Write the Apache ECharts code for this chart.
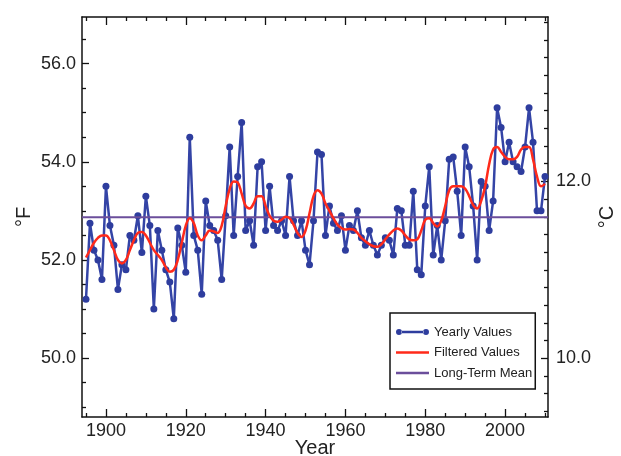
<!DOCTYPE html>
<html><head><meta charset="utf-8">
<script src="https://cdn.jsdelivr.net/npm/echarts@6/dist/echarts.min.js"></script>
<style>html,body{margin:0;padding:0;background:#fff}#c{width:621px;height:456px}</style>
</head><body><div id="c"></div>
<script>
const years = [1895,1896,1897,1898,1899,
1900,1901,1902,1903,1904,1905,1906,1907,1908,1909,
1910,1911,1912,1913,1914,1915,1916,1917,1918,1919,
1920,1921,1922,1923,1924,1925,1926,1927,1928,1929,
1930,1931,1932,1933,1934,1935,1936,1937,1938,1939,
1940,1941,1942,1943,1944,1945,1946,1947,1948,1949,
1950,1951,1952,1953,1954,1955,1956,1957,1958,1959,
1960,1961,1962,1963,1964,1965,1966,1967,1968,1969,
1970,1971,1972,1973,1974,1975,1976,1977,1978,1979,
1980,1981,1982,1983,1984,1985,1986,1987,1988,1989,
1990,1991,1992,1993,1994,1995,1996,1997,1998,1999,
2000,2001,2002,2003,2004,2005,2006,2007,2008,2009,
2010];
const yearlyValues = [51.2,52.75,52.2,52.0,51.6,
53.5,52.7,52.3,51.4,51.9,51.8,52.5,52.4,52.9,52.15,
53.3,52.7,51.0,52.6,52.2,51.8,51.55,50.8,52.65,52.3,
51.75,54.5,52.5,52.2,51.3,53.2,52.7,52.6,52.4,51.6,
52.9,54.3,52.5,53.7,54.8,52.6,52.8,52.3,53.9,54.0,
52.6,53.5,52.7,52.6,52.8,52.5,53.7,52.8,52.5,52.8,
52.2,51.9,52.8,54.2,54.15,52.5,53.1,52.75,52.6,52.9,
52.2,52.7,52.6,53.0,52.45,52.3,52.6,52.3,52.1,52.3,
52.45,52.4,52.1,53.05,53.0,52.3,52.3,53.4,51.8,51.7,
53.1,53.9,52.1,52.7,52.0,52.8,54.05,54.1,53.4,52.5,
54.3,53.9,53.1,52.0,53.6,53.5,52.6,53.2,55.1,54.7,
54.0,54.4,54.0,53.9,53.8,54.3,55.1,54.4,53.0,53.0,
53.7];
const filteredValues = [52.05,52.2,52.35,52.45,52.5,
52.5,52.4,52.2,52.0,51.93,52.0,52.2,52.4,52.55,52.57,
52.5,52.35,52.2,52.1,52.0,51.85,51.76,51.8,52.0,52.35,
52.7,52.85,52.75,52.5,52.4,52.5,52.6,52.58,52.55,52.7,
53.1,53.45,53.6,53.58,53.35,53.1,53.05,53.15,53.3,53.3,
53.1,52.9,52.8,52.78,52.82,52.88,52.85,52.72,52.55,52.47,
52.6,52.95,53.3,53.42,53.35,53.15,53.0,52.85,52.72,52.65,
52.62,52.63,52.62,52.55,52.45,52.38,52.32,52.28,52.27,52.32,
52.42,52.52,52.6,52.64,52.6,52.5,52.42,52.4,52.42,52.6,
52.82,52.85,52.75,52.68,52.8,53.1,53.42,53.5,53.5,53.5,
53.45,53.3,53.12,53.05,53.2,53.5,53.95,54.25,54.3,54.2,
54.1,54.05,54.05,54.1,54.25,54.3,54.3,54.05,53.7,53.5,
53.55];
const longTermMean = 52.87;
const xTickLabels = [1900,1920,1940,1960,1980,2000];
const xMinorTicks = [1895,1905,1910,1915,1925,1930,1935,1945,1950,1955,1965,1970,1975,1985,1990,1995,2005,2010];
const fTickLabels = [50,52,54,56];
const fMinorTicks = [49,49.5,50.5,51,51.5,52.5,53,53.5,54.5,55,55.5,56.5];
const cTickLabels = [10,12];
const cMinorTicks = [9.4,9.6,9.8,10.2,10.4,10.6,10.8,11,11.2,11.4,11.6,11.8,12.2,12.4,12.6,12.8,13,13.2,13.4,13.6,13.8];

const X_MIN = 1894, X_MAX = 2010.75;
const F_MIN = 48.8, F_MAX = 56.95;
const C_MIN = (F_MIN - 32) * 5 / 9, C_MAX = (F_MAX - 32) * 5 / 9;
const FONT = '"Liberation Sans", Arial, Helvetica, sans-serif';
const INK = '#111';
const TXT = '#222';
const BLUE = '#3444a6', RED = '#ff2a1a', PURPLE = '#6b4e9b';

function axis(pos, min, max, ticks, len, opts) {
  const a = {
    type: 'value', position: pos, min: min, max: max,
    axisLine: {show: !!opts.line, onZero: false, lineStyle: {color: INK, width: 1.5}},
    axisTick: {show: true, inside: true, length: len, customValues: ticks, lineStyle: {color: INK, width: 1.3}},
    axisLabel: {show: !!opts.labels, customValues: opts.labels || [], margin: opts.margin || 6,
      fontSize: 18, color: TXT, fontFamily: FONT,
      formatter: opts.fmt || (v => String(v))},
    splitLine: {show: false}, minorTick: {show: false}
  };
  if (opts.name) {
    a.name = opts.name; a.nameLocation = 'middle'; a.nameGap = opts.nameGap;
    a.nameRotate = opts.nameRotate;
    a.nameMoveOverlap = false;
    a.nameTextStyle = {fontSize: 20, color: TXT, fontFamily: FONT};
  }
  return a;
}
const f1 = v => v.toFixed(1);

const ICON_DOTS = 'path://M0,4a3,3 0 1,0 6,0a3,3 0 1,0 -6,0ZM27,4a3,3 0 1,0 6,0a3,3 0 1,0 -6,0ZM5.5,2.7L27.5,2.7L27.5,5.3L5.5,5.3Z';
const ICON_LINE = 'path://M0,0L0.01,0M0,2.8L33,2.8L33,5.2L0,5.2ZM32.99,8L33,8';

const chart = echarts.init(document.getElementById('c'), null, {renderer: 'canvas'});
chart.setOption({
  animation: false,
  backgroundColor: '#ffffff',
  grid: {left: 82, right: 73, top: 17, bottom: 39, containLabel: false, outerBoundsMode: 'none'},
  xAxis: [
    axis('bottom', X_MIN, X_MAX, xTickLabels, 8, {line: true, labels: xTickLabels, margin: 5, name: 'Year', nameGap: 21}),
    axis('bottom', X_MIN, X_MAX, xMinorTicks, 4, {}),
    axis('top', X_MIN, X_MAX, xTickLabels, 8, {line: true}),
    axis('top', X_MIN, X_MAX, xMinorTicks, 4, {})
  ],
  yAxis: [
    axis('left', F_MIN, F_MAX, fTickLabels, 7, {line: true, labels: fTickLabels, fmt: f1, margin: 6, name: '°F', nameGap: 48, nameRotate: 90}),
    axis('left', F_MIN, F_MAX, fMinorTicks, 4, {}),
    axis('right', C_MIN, C_MAX, cTickLabels, 7, {line: true, labels: cTickLabels, fmt: f1, margin: 8, name: '°C', nameGap: 49, nameRotate: 90}),
    axis('right', C_MIN, C_MAX, cMinorTicks, 4, {})
  ],
  legend: {
    orient: 'vertical', left: 390, top: 313,
    data: [
      {name: 'Yearly Values', icon: ICON_DOTS},
      {name: 'Filtered Values', icon: ICON_LINE},
      {name: 'Long-Term Mean', icon: ICON_LINE}
    ],
    itemWidth: 33, itemHeight: 8, itemGap: 7.5,
    padding: [12.5, 3, 9.5, 6],
    itemStyle: {borderWidth: 0},
    borderColor: INK, borderWidth: 1.5, backgroundColor: '#ffffff', borderRadius: 0,
    textStyle: {fontSize: 13, color: TXT, fontFamily: FONT}
  },
  series: [
    {name: 'Yearly Values', type: 'line', xAxisIndex: 0, yAxisIndex: 0,
     data: years.map((y, i) => [y, yearlyValues[i]]),
     symbol: 'circle', symbolSize: 7, showSymbol: true,
     lineStyle: {color: BLUE, width: 2.5}, itemStyle: {color: '#2e3d9e'}, z: 2},
    {name: 'Long-Term Mean', type: 'line', xAxisIndex: 0, yAxisIndex: 0,
     data: [[X_MIN, longTermMean], [X_MAX, longTermMean]],
     symbol: 'none', lineStyle: {color: PURPLE, width: 2}, itemStyle: {color: PURPLE}, z: 3},
    {name: 'Filtered Values', type: 'line', xAxisIndex: 0, yAxisIndex: 0,
     data: years.map((y, i) => [y, filteredValues[i]]),
     smooth: 0.4, symbol: 'none', lineStyle: {color: RED, width: 2.5}, itemStyle: {color: RED}, z: 4}
  ]
});
</script></body></html>
